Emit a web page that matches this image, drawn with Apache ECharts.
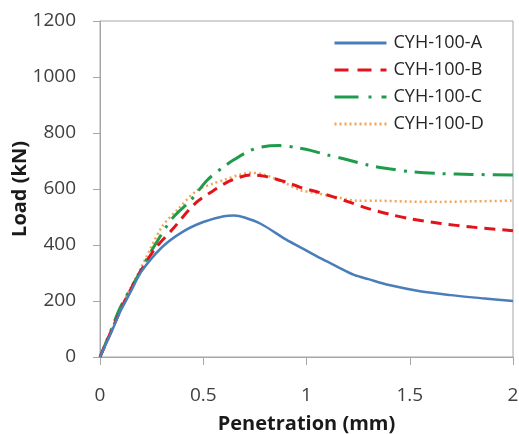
<!DOCTYPE html>
<html>
<head>
<meta charset="utf-8">
<script src="https://cdn.jsdelivr.net/npm/echarts@6/dist/echarts.min.js"></script>
<style>
  html, body { margin: 0; padding: 0; background: #fff; }
  #chart { width: 519px; height: 434px; }
</style>
</head>
<body>
<div id="chart"></div>
<script>
// Load–penetration curves for four CYH-100 specimens
const seriesNames = ['CYH-100-A', 'CYH-100-B', 'CYH-100-C', 'CYH-100-D'];

const penA = [0, 0.05, 0.1, 0.15, 0.2, 0.3, 0.4, 0.5, 0.6, 0.65, 0.7, 0.78, 0.9, 1.0, 1.07, 1.15, 1.23, 1.3, 1.4, 1.55, 1.7, 1.85, 2.0];
const loadA = [0, 80, 165, 235, 305, 392, 447, 482, 503, 505, 498, 475, 420, 380, 352, 322, 293, 278, 257, 235, 221, 210, 200];

const penB = [0, 0.05, 0.12, 0.2, 0.27, 0.35, 0.46, 0.55, 0.61, 0.68, 0.73, 0.8, 0.9, 0.97, 1.05, 1.13, 1.2, 1.3, 1.4, 1.5, 1.65, 1.8, 2.0];
const loadB = [0, 85, 200, 310, 390, 455, 548, 595, 622, 643, 650, 645, 625, 606, 590, 572, 555, 530, 510, 494, 477, 464, 451];

const penC = [0, 0.05, 0.1, 0.18, 0.25, 0.35, 0.44, 0.52, 0.6, 0.65, 0.72, 0.78, 0.87, 0.95, 1.02, 1.1, 1.18, 1.3, 1.4, 1.5, 1.65, 1.8, 2.0];
const loadC = [0, 90, 180, 285, 380, 495, 560, 632, 680, 705, 735, 750, 755, 748, 738, 722, 708, 685, 672, 662, 655, 652, 650];

const penD = [0, 0.05, 0.12, 0.2, 0.3, 0.38, 0.47, 0.55, 0.6, 0.68, 0.73, 0.8, 0.9, 0.97, 1.05, 1.15, 1.25, 1.35, 1.5, 1.65, 1.8, 2.0];
const loadD = [0, 88, 205, 320, 465, 530, 595, 620, 632, 652, 658, 650, 620, 596, 585, 570, 558, 558, 555, 554, 556, 558];

const xTicks = { min: 0, max: 2, interval: 0.5 };
const yTicks = { min: 0, max: 1200, interval: 200 };

const zip = (xs, ys) => xs.map((x, i) => [x, ys[i]]);

const styles = [
  { color: '#4a7ebb', width: 2.5, type: 'solid' },
  { color: '#e0141a', width: 3, type: [11, 7] },
  { color: '#1e9c4c', width: 3, type: [20, 8, 3, 8] },
  { color: '#f2a55a', width: 2.5, type: [2, 3] }
];
const legendDash = [
  'solid',
  [14, 9],
  [24, 10, 3, 10],
  [2, 3]
];
const dataSets = [zip(penA, loadA), zip(penB, loadB), zip(penC, loadC), zip(penD, loadD)];

const FONT = 'Open Sans';
const chart = echarts.init(document.getElementById('chart'), null, { renderer: 'canvas' });

chart.setOption({
  animation: false,
  backgroundColor: '#fff',
  grid: {
    left: 100, right: 6, top: 21, bottom: 77,
    containLabel: false, outerBoundsMode: 'none',
    show: true, borderColor: '#a6a6a6', borderWidth: 1
  },
  legend: {
    orient: 'vertical',
    left: 333, top: 34,
    itemWidth: 52, itemHeight: 14, itemGap: 9,
    backgroundColor: '#fff',
    padding: 0,
    itemStyle: { opacity: 0 },
    textStyle: { fontFamily: FONT, fontSize: 18, color: '#262626', lineHeight: 18, padding: [0, 0, 0, 2] },
    data: seriesNames.map((name, i) => ({
      name,
      lineStyle: { color: styles[i].color, width: 3, type: legendDash[i] }
    }))
  },
  xAxis: {
    type: 'value',
    min: xTicks.min, max: xTicks.max, interval: xTicks.interval,
    name: 'Penetration (mm)',
    nameLocation: 'middle', nameGap: 57, nameMoveOverlap: false,
    nameTextStyle: { fontFamily: FONT, fontSize: 20, fontWeight: 'bold', color: '#1a1a1a' },
    axisLine: { show: true, lineStyle: { color: '#a6a6a6', width: 1 } },
    axisTick: { show: true, inside: false, length: 8, lineStyle: { color: '#a6a6a6' } },
    axisLabel: { fontFamily: FONT, fontSize: 19, color: '#404040', margin: 29 },
    splitLine: { show: false }
  },
  yAxis: {
    type: 'value',
    min: yTicks.min, max: yTicks.max, interval: yTicks.interval,
    name: 'Load (kN)',
    nameLocation: 'middle', nameGap: 70, nameMoveOverlap: false,
    nameTextStyle: { fontFamily: FONT, fontSize: 20, fontWeight: 'bold', color: '#1a1a1a' },
    axisLine: { show: true, lineStyle: { color: '#a6a6a6', width: 1 } },
    axisTick: { show: true, inside: false, length: 7, lineStyle: { color: '#a6a6a6' } },
    axisLabel: { fontFamily: FONT, fontSize: 19, color: '#404040', margin: 24, formatter: v => String(v) },
    splitLine: { show: false }
  },
  series: seriesNames.map((name, i) => ({
    name,
    type: 'line',
    data: dataSets[i],
    smooth: 0.3,
    symbol: 'none',
    z: 4 - i,
    itemStyle: { color: styles[i].color },
    lineStyle: { color: styles[i].color, width: styles[i].width, type: styles[i].type }
  }))
});
</script>
</body>
</html>
